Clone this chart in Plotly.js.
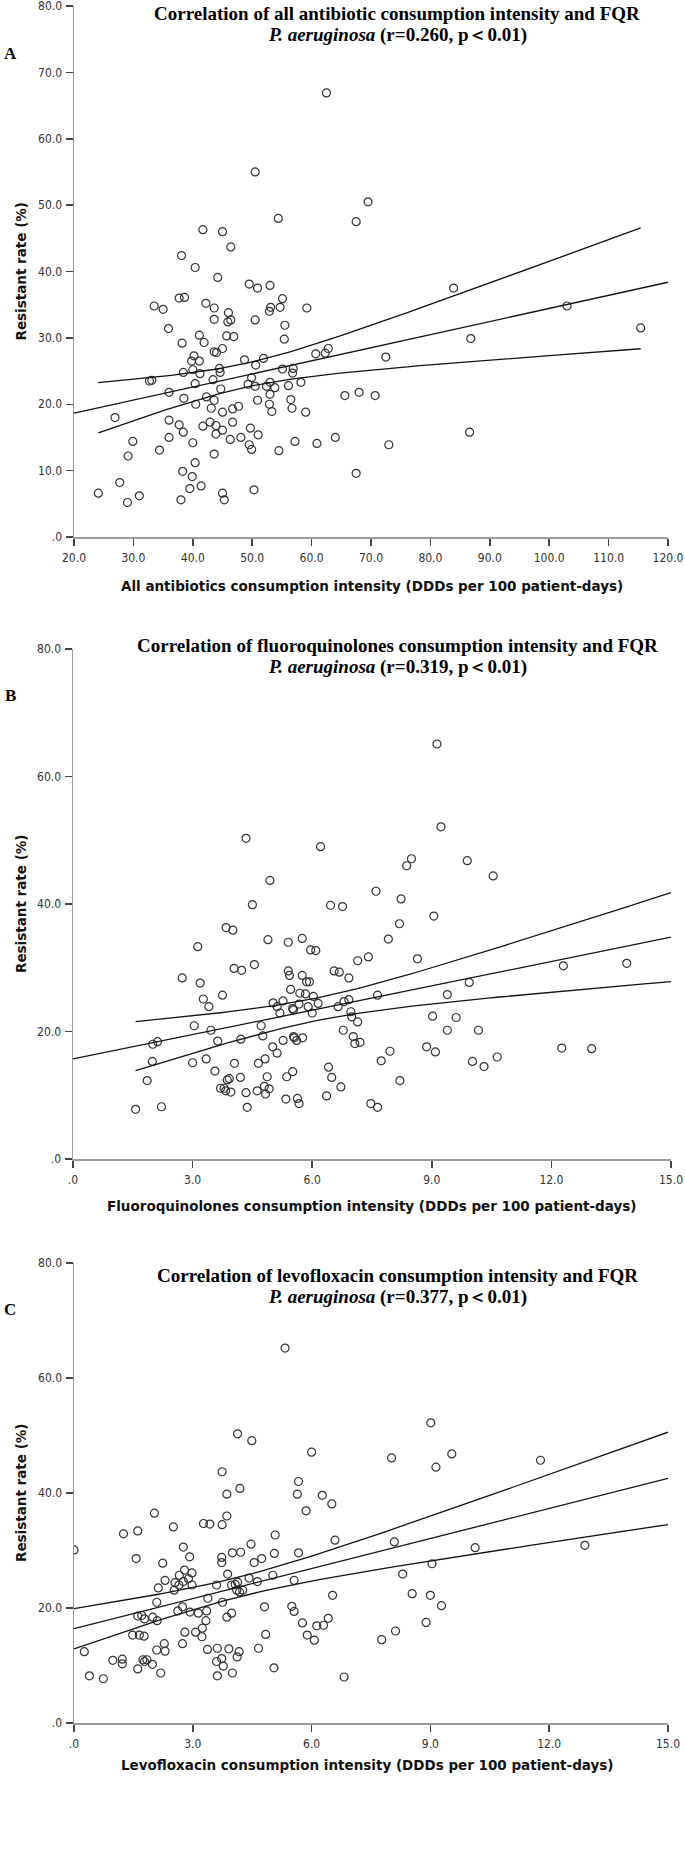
<!DOCTYPE html>
<html>
<head>
<meta charset="utf-8">
<script src="https://cdn.plot.ly/plotly-3.0.1.min.js"></script>
<style>html,body{margin:0;padding:0;background:#fff}#chart{width:685px;height:1856px}</style>
</head>
<body>
<div id="chart"></div>
<script>
// ---------- Panel A: all antibiotics consumption vs resistant rate ----------
const aX = [50.5,41.7,45.0,46.4,38.1,40.4,44.2,49.5,50.9,37.7,38.6,33.5,35.0,42.2,43.6,43.6,46.0,45.9,46.4,50.5,
35.9,41.1,41.9,38.2,45.7,46.9,45.0,43.6,44.0,48.7,40.2,39.8,41.1,50.6,38.4,40.0,41.2,44.5,44.6,43.4,
49.9,32.7,33.1,40.4,49.3,50.5,36.0,44.7,38.5,42.3,43.6,50.9,40.5,43.1,45.0,46.7,47.7,26.9,36.0,37.7,
38.4,42.9,43.9,46.7,41.7,43.9,45.0,49.7,36.0,40.0,46.3,48.1,49.5,49.9,51.0,29.9,34.4,29.1,43.6,40.4,
69.5,54.4,67.5,53.0,55.1,53.1,52.9,54.7,59.2,55.5,55.4,83.9,103.0,86.8,51.9,62.8,62.3,60.7,72.5,55.1,
56.9,56.8,53.0,52.4,53.8,56.1,58.2,53.0,52.9,56.5,56.7,53.3,59.0,65.6,68.0,70.7,
54.5,57.2,60.9,64.0,73.0,67.5,38.3,39.9,27.7,39.5,41.4,24.1,31.0,29.0,38.0,45.0,45.3,50.3,115.4,86.6,62.5];
const aY = [55.0,46.3,46.0,43.7,42.4,40.6,39.1,38.1,37.5,36.0,36.1,34.8,34.3,35.2,34.5,32.8,33.8,32.4,32.7,32.7,
31.4,30.4,29.3,29.2,30.3,30.2,28.4,27.9,27.8,26.7,27.3,26.5,26.5,25.9,24.8,25.2,24.6,25.4,24.8,23.7,
24.0,23.5,23.6,23.1,23.0,22.7,21.8,22.3,20.9,21.1,20.6,20.6,20.0,19.4,18.8,19.3,19.7,18.0,17.6,16.9,
15.8,17.3,16.8,17.3,16.7,15.5,16.1,16.4,15.0,14.2,14.7,15.0,13.9,13.2,15.4,14.4,13.1,12.2,12.5,11.2,
50.5,48.0,47.5,37.9,35.9,34.6,34.0,34.6,34.5,31.9,29.8,37.5,34.8,29.9,26.9,28.4,27.7,27.6,27.1,25.3,
25.4,24.7,23.3,22.7,22.5,22.8,23.3,21.5,20.0,20.7,19.4,18.9,18.8,21.3,21.8,21.3,
13.0,14.4,14.1,15.0,13.9,9.6,9.9,9.1,8.2,7.3,7.7,6.6,6.2,5.2,5.6,6.6,5.6,7.1,31.5,15.8,66.9];

// ---------- Panel B: fluoroquinolones consumption vs resistant rate ----------
const bX = [4.34,6.21,4.94,4.50,6.46,6.76,3.84,4.01,3.13,4.89,5.40,5.75,5.96,6.09,7.14,7.41,4.04,4.23,4.55,5.40,
5.43,6.55,6.68,6.92,5.75,5.86,5.93,2.74,3.19,3.27,3.41,3.75,5.46,5.69,5.83,6.03,5.02,5.27,5.12,5.19,
5.51,5.53,5.67,5.90,6.00,6.15,6.65,6.80,6.92,6.97,6.99,7.14,3.04,3.46,4.72,6.78,2.00,2.12,3.63,4.21,
4.76,5.27,5.53,5.55,5.61,5.76,7.03,7.07,7.20,5.01,5.12,1.99,3.00,3.34,4.05,4.65,4.82,3.56,6.41,6.49,
6.72,1.86,3.87,3.92,4.20,4.87,5.36,5.51,3.70,3.79,3.83,3.96,4.34,4.62,4.80,4.83,4.92,5.34,5.63,5.67,
6.36,4.37,1.57,2.22,
9.13,9.23,8.49,8.37,9.89,10.54,7.60,8.23,9.05,8.19,7.91,8.64,12.30,13.89,9.94,7.64,9.39,9.02,9.61,9.39,
10.17,8.87,9.09,7.95,7.73,10.02,10.31,10.64,12.26,13.01,8.20,7.47,7.64];
const bY = [50.3,49.0,43.7,39.9,39.8,39.6,36.3,35.9,33.3,34.4,34.0,34.6,32.8,32.7,31.1,31.7,29.9,29.6,30.5,29.5,
28.8,29.5,29.3,28.4,28.8,27.8,27.8,28.4,27.6,25.1,23.9,25.7,26.6,26.0,25.9,25.5,24.5,24.8,23.9,22.9,
23.6,23.4,24.3,23.9,22.9,24.4,23.9,24.7,25.0,23.1,22.3,21.5,20.9,20.2,20.9,20.2,18.0,18.4,18.5,18.8,
19.3,18.6,19.2,19.0,18.6,19.0,19.2,18.1,18.3,17.6,16.6,15.3,15.1,15.7,15.0,15.0,15.7,13.8,14.4,12.8,
11.3,12.3,12.4,12.6,12.8,12.9,12.9,13.7,11.1,11.1,10.7,10.5,10.4,10.7,11.4,10.2,11.0,9.4,9.5,8.7,
9.9,8.1,7.8,8.2,
65.1,52.1,47.1,46.0,46.8,44.4,42.0,40.8,38.1,36.9,34.5,31.4,30.3,30.7,27.7,25.7,25.8,22.4,22.2,20.2,
20.2,17.6,16.8,16.9,15.4,15.3,14.5,16.0,17.4,17.3,12.3,8.7,8.1];

// ---------- Panel C: levofloxacin consumption vs resistant rate ----------
const cX = [5.33,4.13,4.49,6.00,3.74,5.67,4.19,5.64,3.86,6.27,6.51,5.86,2.03,3.86,2.51,3.27,3.43,3.74,1.61,1.25,
5.08,6.59,4.47,2.76,0.00,2.92,4.00,4.21,5.06,5.67,1.57,3.73,4.74,4.55,2.24,3.73,2.79,2.98,2.66,3.88,
5.02,2.30,2.55,2.76,2.89,4.42,5.56,4.63,2.65,2.98,3.60,3.98,4.07,4.13,2.13,2.53,4.11,4.26,4.18,6.53,
3.38,2.09,3.75,2.74,4.81,5.50,2.62,1.61,1.71,1.78,1.99,2.10,2.93,3.14,3.35,3.98,3.86,5.56,3.33,5.77,
6.42,6.13,6.30,3.24,3.07,2.80,3.23,1.48,1.65,1.77,4.84,5.89,6.07,2.74,2.28,2.30,2.09,3.37,3.62,3.91,
4.66,4.17,4.12,0.26,0.98,1.22,1.22,1.74,1.78,1.84,1.98,1.61,3.60,3.73,3.77,5.05,2.19,4.00,0.39,0.74,
3.62,6.82,
9.01,8.02,9.54,9.14,11.78,8.09,10.13,12.90,9.04,8.30,8.54,9.00,9.28,8.89,8.12,7.77];
const cY = [65.2,50.3,49.1,47.1,43.7,42.0,40.8,39.8,39.8,39.6,38.1,36.9,36.5,36.0,34.1,34.7,34.6,34.5,33.4,32.9,
32.7,31.8,31.1,30.6,30.1,28.9,29.6,29.7,29.5,29.6,28.6,28.8,28.6,27.9,27.8,27.9,26.6,26.1,25.7,25.9,
25.7,24.8,24.4,24.6,25.1,25.2,24.8,24.6,24.0,24.0,24.0,24.0,24.1,24.5,23.5,23.1,23.1,23.1,22.8,22.2,
21.7,21.0,21.0,20.2,20.2,20.3,19.5,18.6,18.7,18.1,18.4,17.8,19.3,19.1,19.5,19.1,18.4,19.4,17.8,17.4,
18.2,16.9,17.0,16.5,15.8,15.8,15.0,15.3,15.3,15.1,15.4,15.3,14.4,13.8,13.8,12.5,12.7,12.8,13.0,12.9,
13.0,12.4,11.5,12.4,10.9,11.1,10.3,11.0,10.7,11.0,10.2,9.4,10.7,11.2,9.9,9.6,8.7,8.7,8.2,7.7,
8.2,8.0,
52.2,46.1,46.8,44.5,45.7,31.5,30.5,30.9,27.7,25.9,22.5,22.2,20.4,17.5,16.0,14.5];

// ---------- Axis ticks ----------
const aXTicks = [20,30,40,50,60,70,80,90,100,110,120];
const aXTickText = ['20.0','30.0','40.0','50.0','60.0','70.0','80.0','90.0','100.0','110.0','120.0'];
const aYTicks = [0,10,20,30,40,50,60,70,80];
const aYTickText = ['.0','10.0','20.0','30.0','40.0','50.0','60.0','70.0','80.0'];
const bcXTicks = [0,3,6,9,12,15];
const bcXTickText = ['.0','3.0','6.0','9.0','12.0','15.0'];
const bcYTicks = [0,20,40,60,80];
const bcYTickText = ['.0','20.0','40.0','60.0','80.0'];

// ---------- Texts ----------
const titlesLine1 = [
  'Correlation of all antibiotic consumption intensity and FQR',
  'Correlation of fluoroquinolones consumption intensity and FQR',
  'Correlation of levofloxacin consumption intensity and FQR'];
const rValues = ['0.260','0.319','0.377'];
const panelLetters = ['A','B','C'];
const xTitles = [
  'All antibiotics consumption intensity (DDDs per 100 patient-days)',
  'Fluoroquinolones consumption intensity (DDDs per 100 patient-days)',
  'Levofloxacin consumption intensity (DDDs per 100 patient-days)'];
const yTitle = 'Resistant rate (%)';

// ---------- Layout geometry (pixels in a 685 x 1856 page) ----------
const W = 685, H = 1856;
const fx = p => p / W, fy = p => 1 - p / H;
const panels = [
  {xs:aX, ys:aY, xr:[20,120], xt:aXTicks, xtt:aXTickText, yt:aYTicks, ytt:aYTickText,
   left:74, right:668, top:6, bottom:537, ciToAxisEnd:false,
   t1:13, t2:35, lab:53, xtitle:586, xtc:372},
  {xs:bX, ys:bY, xr:[0,15], xt:bcXTicks, xtt:bcXTickText, yt:bcYTicks, ytt:bcYTickText,
   left:73, right:671, top:649, bottom:1159, ciToAxisEnd:true,
   t1:645, t2:667, lab:695, xtitle:1206, xtc:372},
  {xs:cX, ys:cY, xr:[0,15], xt:bcXTicks, xtt:bcXTickText, yt:bcYTicks, ytt:bcYTickText,
   left:74, right:668, top:1263, bottom:1723, ciToAxisEnd:true,
   t1:1275, t2:1297, lab:1309, xtitle:1765, xtc:367}
];

function fitLine(xs, ys){
  const n = xs.length;
  const mx = xs.reduce((s,v)=>s+v,0)/n, my = ys.reduce((s,v)=>s+v,0)/n;
  let sxx=0, sxy=0;
  for(let i=0;i<n;i++){ sxx+=(xs[i]-mx)**2; sxy+=(xs[i]-mx)*(ys[i]-my); }
  const b = sxy/sxx, a = my - b*mx;
  let sse=0; for(let i=0;i<n;i++){ sse += (ys[i]-(a+b*xs[i]))**2; }
  const s = Math.sqrt(sse/(n-2));
  const df = n-2, z = 1.959964;
  const t = z + (z**3+z)/(4*df) + (5*z**5+16*z**3+3*z)/(96*df*df);
  return {n, mx, sxx, a, b, s, t};
}

const traces = [];
const layout = {
  width: W, height: H, margin:{l:0,r:0,t:0,b:0},
  paper_bgcolor:'#fff', plot_bgcolor:'#fff', showlegend:false,
  annotations: []
};
const tickFont = {family:'Liberation Sans Narrow, DejaVu Sans Condensed, Arial Narrow, sans-serif', size:12, color:'#333'};
const axTitleFont = {family:'DejaVu Sans, Verdana, sans-serif', size:13.5, color:'#111'};
const serif = 'Liberation Serif, Times New Roman, serif';

panels.forEach((p, k) => {
  const sfx = k === 0 ? '' : String(k+1);
  const xa = 'x'+sfx, ya = 'y'+sfx;
  layout['xaxis'+sfx] = {
    domain:[fx(p.left), fx(p.right)], range:p.xr, anchor:ya,
    showgrid:false, zeroline:false, showline:true, linecolor:'#9a9a9a', linewidth:1.5,
    ticks:'outside', ticklen:7, tickwidth:1.5, tickcolor:'#444', ticklabeloverflow:'allow',
    tickmode:'array', tickvals:p.xt, ticktext:p.xtt, tickfont:tickFont, ticklabelstandoff:2
  };
  layout['yaxis'+sfx] = {
    domain:[fy(p.bottom), fy(p.top)], range:[0,80], anchor:xa,
    showgrid:false, zeroline:false, showline:true, linecolor:'#9a9a9a', linewidth:1.5,
    ticks:'outside', ticklen:7, tickwidth:1.5, tickcolor:'#444', ticklabeloverflow:'allow',
    tickmode:'array', tickvals:p.yt, ticktext:p.ytt, tickfont:tickFont, ticklabelstandoff:1
  };
  // scatter points
  traces.push({type:'scatter', mode:'markers', x:p.xs, y:p.ys, xaxis:xa, yaxis:ya,
    marker:{symbol:'circle-open', size:8, color:'#333', line:{width:1.2, color:'#333'}},
    hoverinfo:'x+y'});
  // regression fit and 95% CI of the mean
  const f = fitLine(p.xs, p.ys);
  traces.push({type:'scatter', mode:'lines', x:p.xr, y:p.xr.map(v=>f.a+f.b*v), xaxis:xa, yaxis:ya,
    line:{color:'#111', width:1.3}, hoverinfo:'skip'});
  const lo = Math.min(...p.xs), hi = p.ciToAxisEnd ? p.xr[1] : Math.max(...p.xs);
  const cx = [], up = [], dn = [];
  for(let i=0;i<=80;i++){
    const x = lo + (hi-lo)*i/80;
    const yh = f.a + f.b*x;
    const se = f.s*Math.sqrt(1/f.n + (x-f.mx)**2/f.sxx);
    cx.push(x); up.push(yh + f.t*se); dn.push(yh - f.t*se);
  }
  [up, dn].forEach(arr => traces.push({type:'scatter', mode:'lines', x:cx, y:arr, xaxis:xa, yaxis:ya,
    line:{color:'#111', width:1.3}, hoverinfo:'skip'}));

  // texts
  const ann = layout.annotations;
  ann.push({xref:'paper', yref:'paper', x:fx(397), y:fy(p.t1), xanchor:'center', yanchor:'middle',
    showarrow:false, text:'<b>'+titlesLine1[k]+'</b>', font:{family:serif, size:19, color:'#000'}});
  ann.push({xref:'paper', yref:'paper', x:fx(397), y:fy(p.t2), xanchor:'center', yanchor:'middle',
    showarrow:false, text:'<b><i>P. aeruginosa</i> (r='+rValues[k]+', p＜0.01)</b>', font:{family:serif, size:19, color:'#000'}});
  ann.push({xref:'paper', yref:'paper', x:fx(10), y:fy(p.lab), xanchor:'center', yanchor:'middle',
    showarrow:false, text:'<b>'+panelLetters[k]+'</b>', font:{family:serif, size:17, color:'#000'}});
  ann.push({xref:'paper', yref:'paper', x:fx(p.xtc), y:fy(p.xtitle), xanchor:'center', yanchor:'middle',
    showarrow:false, text:'<b>'+xTitles[k]+'</b>', font:axTitleFont});
  ann.push({xref:'paper', yref:'paper', x:fx(21), y:fy((p.top+p.bottom)/2), xanchor:'center', yanchor:'middle',
    showarrow:false, textangle:-90, text:'<b>'+yTitle+'</b>', font:axTitleFont});
});

Plotly.newPlot('chart', traces, layout, {staticPlot:true, displayModeBar:false});
</script>
</body>
</html>
